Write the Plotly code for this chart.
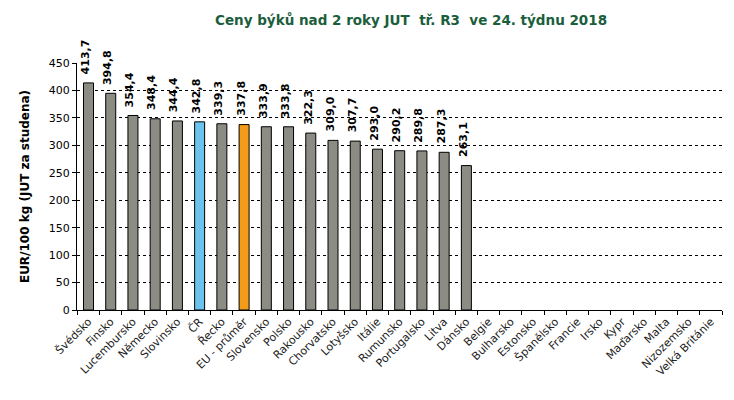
import plotly.graph_objects as go

countries = ["Švédsko", "Finsko", "Lucembursko", "Německo", "Slovinsko", "ČR", "Řecko",
             "EU - průměr", "Slovensko", "Polsko", "Rakousko", "Chorvatsko", "Lotyšsko",
             "Itálie", "Rumunsko", "Portugalsko", "Litva", "Dánsko", "Belgie", "Bulharsko",
             "Estonsko", "Španělsko", "Francie", "Irsko", "Kypr", "Maďarsko", "Malta",
             "Nizozemsko", "Velká Británie"]
prices = [413.7, 394.8, 354.4, 348.4, 344.4, 342.8, 339.3, 337.8, 333.9, 333.8, 322.3,
          309.0, 307.7, 293.0, 290.2, 289.8, 287.3, 263.1] + [None] * 11

GRAY = "#8c8c84"
colors = []
for c in countries:
    if c == "ČR":
        colors.append("#6cc4ee")
    elif c == "EU - průměr":
        colors.append("#f39c1a")
    else:
        colors.append(GRAY)

fig = go.Figure(go.Bar(
    x=countries, y=prices,
    marker=dict(color=colors, line=dict(color="black", width=1)),
    hoverinfo="x+y",
))

for c, v in zip(countries, prices):
    if v is None:
        continue
    fig.add_annotation(
        x=c, y=v, xref="x", yref="y",
        text=f"{v:.1f}".replace(".", ","),
        textangle=-90, showarrow=False,
        xanchor="center", yanchor="middle", yshift=26, xshift=-3,
        font=dict(family="DejaVu Sans", size=11, color="black", weight="bold"),
    )

fig.update_layout(
    width=734, height=400,
    margin=dict(l=77, r=12, t=63, b=90),
    plot_bgcolor="white", paper_bgcolor="white",
    bargap=0.55,
    showlegend=False,
    font=dict(family="DejaVu Sans", size=11, color="black"),
    title=dict(text="Ceny býků nad 2 roky JUT  tř. R3  ve 24. týdnu 2018",
               x=0.56, xanchor="center", y=0.95, yanchor="middle",
               font=dict(family="DejaVu Sans", size=13.5, color="#1b5e3c", weight="bold")),
)
fig.update_xaxes(
    type="category", tickangle=-45, tickson="boundaries",
    ticks="outside", ticklen=4, tickcolor="black",
    showline=True, linecolor="black", linewidth=1,
    tickfont=dict(family="DejaVu Sans", size=11, color="#222"),
    showgrid=False,
)
fig.update_yaxes(
    range=[0, 450], dtick=50,
    ticks="outside", ticklen=4, tickcolor="black",
    showline=True, linecolor="black", linewidth=1,
    showgrid=True, gridcolor="black", griddash="dot", gridwidth=1,
    zeroline=False,
    tickfont=dict(family="DejaVu Sans", size=11, color="black"),
    title=dict(text="EUR/100 kg (JUT za studena)", standoff=16,
               font=dict(family="DejaVu Sans", size=12, color="black", weight="bold")),
)

fig.write_html("out.html")
